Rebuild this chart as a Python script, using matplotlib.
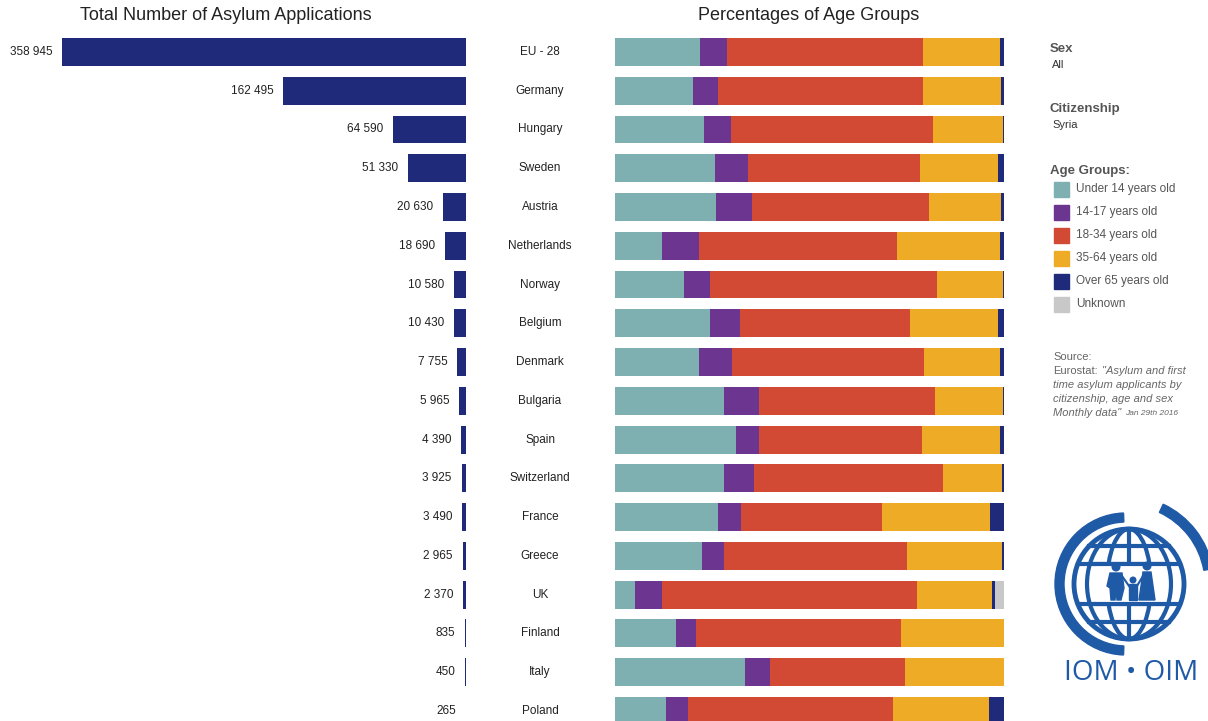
import numpy as np
import matplotlib
matplotlib.use("Agg")
import matplotlib.pyplot as plt
from matplotlib.patches import Rectangle, Wedge, Circle, Ellipse, Polygon
from matplotlib.transforms import blended_transform_factory

plt.rcParams['font.family'] = ['Liberation Sans', 'DejaVu Sans']

# data
countries = ['EU - 28', 'Germany', 'Hungary', 'Sweden', 'Austria', 'Netherlands',
             'Norway', 'Belgium', 'Denmark', 'Bulgaria', 'Spain', 'Switzerland',
             'France', 'Greece', 'UK', 'Finland', 'Italy', 'Poland']
totals = [358945, 162495, 64590, 51330, 20630, 18690, 10580, 10430, 7755,
          5965, 4390, 3925, 3490, 2965, 2370, 835, 450, 265]

age_groups = ['Under 14 years old', '14-17 years old', '18-34 years old',
              '35-64 years old', 'Over 65 years old', 'Unknown']
under14 = [21.8, 20.1, 23.0, 25.7, 26.0, 12.2, 17.7, 24.5, 21.6, 28.1, 31.1, 28.1, 26.6, 22.4, 5.3, 15.7, 33.4, 13.3]
age14_17 = [7.1, 6.5, 6.9, 8.6, 9.3, 9.4, 6.8, 7.7, 8.6, 8.9, 5.9, 7.7, 5.9, 5.7, 6.9, 5.3, 6.5, 5.5]
age18_34 = [50.3, 52.6, 52.0, 44.1, 45.5, 50.9, 58.4, 43.8, 49.3, 45.3, 42.0, 48.5, 36.1, 47.0, 65.6, 52.7, 34.7, 52.7]
age35_64 = [19.8, 20.2, 17.8, 20.1, 18.6, 26.5, 16.9, 22.5, 19.5, 17.5, 20.0, 15.2, 27.9, 24.4, 19.3, 26.3, 25.4, 24.6]
over65 = [1.0, 0.6, 0.3, 1.5, 0.6, 1.0, 0.2, 1.5, 1.0, 0.2, 1.0, 0.5, 3.5, 0.5, 0.6, 0.0, 0.0, 3.9]
unknown = [0.0, 0.0, 0.0, 0.0, 0.0, 0.0, 0.0, 0.0, 0.0, 0.0, 0.0, 0.0, 0.0, 0.0, 2.3, 0.0, 0.0, 0.0]

colors = ['#7fb0b1', '#6b3590', '#d34a34', '#eeac26', '#1f2a7b', '#c8c8c8']
bar_navy = '#1f2a7b'

W, H = 1208, 721
fig = plt.figure(figsize=(W / 100, H / 100), dpi=100)

y = np.arange(len(countries))
ytop, ybot = -0.5, 17.261
ax_h = 688.4 / H

# left bars
axL = fig.add_axes([0, 0, 466 / W, ax_h])
axL.barh(y, totals, height=0.72, color=bar_navy)
axL.set_xlim(414033, 0)
axL.set_ylim(ybot, ytop)
axL.axis('off')
for i, v in enumerate(totals):
    axL.annotate(f'{v:,}'.replace(',', ' '), xy=(v, i), xytext=(-7, 0),
                 textcoords='offset points', ha='right', va='center',
                 fontsize=8.5, color='#222222')

# stacked percentages
axR = fig.add_axes([614.7 / W, 0, 389 / W, ax_h])
series = [under14, age14_17, age18_34, age35_64, over65, unknown]
left = np.zeros(len(countries))
for vals, c in zip(series, colors):
    axR.barh(y, vals, left=left, height=0.72, color=c)
    left += np.array(vals)
axR.set_xlim(0, 100)
axR.set_ylim(ybot, ytop)
axR.axis('off')

# country names
tr = blended_transform_factory(fig.transFigure, axR.transData)
for i, name in enumerate(countries):
    axR.text(540 / W, i, name, transform=tr, ha='center', va='center',
             fontsize=8.5, color='#222222')

# titles
fig.text(226 / W, 1 - 16 / H, 'Total Number of Asylum Applications',
         ha='center', va='center', fontsize=13, color='#222222')
fig.text(809 / W, 1 - 16 / H, 'Percentages of Age Groups',
         ha='center', va='center', fontsize=13, color='#222222')

# side panel
def px(x, yy):
    return x / W, 1 - yy / H

grey = '#555555'
fig.text(*px(1050, 49), 'Sex', fontsize=9.5, fontweight='bold', color=grey, va='center')
fig.text(*px(1052, 65), 'All', fontsize=8, color='#333333', va='center')
fig.text(*px(1050, 109), 'Citizenship', fontsize=9.5, fontweight='bold', color=grey, va='center')
fig.text(*px(1052, 125), 'Syria', fontsize=8, color='#333333', va='center')
fig.text(*px(1050, 171), 'Age Groups:', fontsize=9.5, fontweight='bold', color=grey, va='center')
for k, (lab, c) in enumerate(zip(age_groups, colors)):
    yy = 189 + k * 23
    fig.patches.append(Rectangle(px(1054, yy + 7.5), 15 / W, 15 / H, color=c,
                                 transform=fig.transFigure, figure=fig))
    fig.text(*px(1076, yy), lab, fontsize=8.5, color=grey, va='center')

# source note
src = '#666666'
ax_src = fig.add_axes([0, 0, 1, 1], facecolor='none')
ax_src.axis('off')
fig.text(*px(1053, 357), 'Source:', fontsize=8, color=src, va='center')
t1 = fig.text(*px(1053, 371), 'Eurostat:', fontsize=8, color=src, va='center')
ax_src.annotate('"Asylum and first', xy=(1, 0.5), xycoords=t1, xytext=(3, 0),
                textcoords='offset points', va='center', fontsize=8, color=src,
                style='italic')
fig.text(*px(1053, 385), 'time asylum applicants by', fontsize=8, color=src, va='center', style='italic')
fig.text(*px(1053, 399), 'citizenship, age and sex', fontsize=8, color=src, va='center', style='italic')
t4 = fig.text(*px(1053, 413), 'Monthly data"', fontsize=8, color=src, va='center', style='italic')
ax_src.annotate('Jan 29th 2016', xy=(1, 0.45), xycoords=t4, xytext=(3, 0),
                textcoords='offset points', va='center', fontsize=6, color=src,
                style='italic')

# IOM logo (drawn in pixel coordinates)
blue = '#1f5aa6'
axLogo = fig.add_axes([1040 / W, 0, 168 / W, 230 / H])
axLogo.set_xlim(1040, 1208)
axLogo.set_ylim(721, 491)
axLogo.axis('off')
cx, cy = 1126, 584
axLogo.add_patch(Wedge((cx, cy), 71, 92, 268, width=9, color=blue))
axLogo.add_patch(Wedge((cx, cy), 88, 295, 350, width=9, color=blue))
axLogo.add_patch(Circle((cx + 3, cy), 55, fill=False, ec=blue, lw=3.5))
for dx in (22, 42):
    axLogo.add_patch(Ellipse((cx + 3, cy), 2 * dx, 110, fill=False, ec=blue, lw=3))
axLogo.plot([cx + 3, cx + 3], [cy - 55, cy + 55], color=blue, lw=3)
for dy in (-38, -20, 20, 38):
    half = np.sqrt(55 ** 2 - dy ** 2)
    axLogo.plot([cx + 3 - half, cx + 3 + half], [cy + dy, cy + dy], color=blue, lw=3)
axLogo.add_patch(Rectangle((cx - 30, cy - 20), 66, 40, color='white', zorder=3))
axLogo.plot([cx - 30, cx + 36], [cy - 20, cy - 20], color=blue, lw=3, zorder=4)
axLogo.plot([cx - 30, cx + 36], [cy + 20, cy + 20], color=blue, lw=3, zorder=4)
# family
axLogo.add_patch(Circle((1116, 567), 3.8, color=blue, zorder=5))
axLogo.add_patch(Polygon([(1110, 573), (1122, 573), (1124, 588), (1121, 600),
                          (1117, 600), (1116, 590), (1115, 600), (1111, 600),
                          (1110, 588), (1107, 586)], color=blue, zorder=5))
axLogo.add_patch(Circle((1133, 580), 2.8, color=blue, zorder=5))
axLogo.add_patch(Polygon([(1129, 584), (1137, 584), (1137, 600), (1129, 600)],
                         color=blue, zorder=5))
axLogo.plot([1122, 1129], [576, 586], color=blue, lw=1.5, zorder=5)
axLogo.plot([1137, 1143], [586, 576], color=blue, lw=1.5, zorder=5)
axLogo.add_patch(Circle((1147, 566), 3.8, color=blue, zorder=5))
axLogo.add_patch(Polygon([(1143, 572), (1151, 572), (1155, 600), (1139, 600)],
                         color=blue, zorder=5))
axLogo.text(1131, 673, 'IOM \u2022 OIM', ha='center', va='center', fontsize=20,
            color=blue, family=['Open Sans', 'DejaVu Sans'])

fig.savefig('out.png', dpi=100, facecolor='white')
